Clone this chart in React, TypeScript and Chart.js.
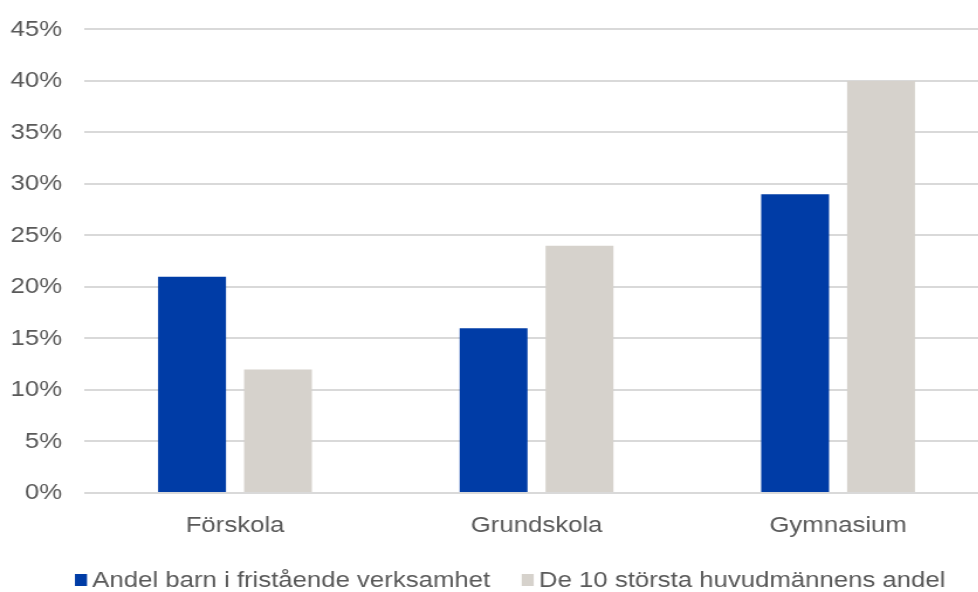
import React, { useEffect, useRef } from "react";
import { Chart, registerables } from "chart.js";

Chart.register(...registerables);

const categories = ["Förskola", "Grundskola", "Gymnasium"];
const friståendeAndel = [21, 16, 29];
const tioStörstaAndel = [12, 24, 40];
const seriesNames = ["Andel barn i fristående verksamhet", "De 10 största huvudmännens andel"];
const seriesColors = ["#003ca6", "#d6d2cc"];

const FONT = "'Liberation Sans', Arial, sans-serif";
const TEXT = "#595959";
const FONT_SIZE = 22;

// The drawing surface is narrower than its displayed box, so the browser widens it;
// the plot runs a little past the visible right edge, which the frame clips.
const DRAW_W = 846;
const DRAW_H = 592;
const SHOW_W = 990;
const FRAME_W = 978;

// Legend drawn by hand so the square-to-text spacing stays tight.
const bottomLegend = {
  id: "bottomLegend",
  afterDraw(chart: Chart) {
    const ctx = chart.ctx;
    ctx.save();
    ctx.font = `${FONT_SIZE}px ${FONT}`;
    ctx.textBaseline = "middle";
    ctx.textAlign = "left";
    const boxW = 10.3;
    const boxH = 12;
    const gap = 4.5;
    const spacing = 27;
    const widths = seriesNames.map((n) => ctx.measureText(n).width);
    const total = widths.reduce((s, w) => s + boxW + gap + w, 0) + spacing * (widths.length - 1);
    const centerX = 436;
    const midY = 580;
    let x = centerX - total / 2;
    seriesNames.forEach((name, i) => {
      ctx.fillStyle = seriesColors[i];
      ctx.fillRect(x, midY - boxH / 2, boxW, boxH);
      x += boxW + gap;
      ctx.fillStyle = TEXT;
      ctx.fillText(name, x, midY + 1);
      x += widths[i] + spacing;
    });
    ctx.restore();
  },
};

export default function App() {
  const ref = useRef<HTMLCanvasElement | null>(null);

  useEffect(() => {
    if (!ref.current) return;
    const chart = new Chart(ref.current, {
      type: "bar",
      data: {
        labels: categories,
        datasets: [
          {
            label: seriesNames[0],
            data: friståendeAndel,
            backgroundColor: seriesColors[0],
            categoryPercentage: 0.57,
            barPercentage: 0.79,
          },
          {
            label: seriesNames[1],
            data: tioStörstaAndel,
            backgroundColor: seriesColors[1],
            categoryPercentage: 0.57,
            barPercentage: 0.79,
          },
        ],
      },
      options: {
        animation: false,
        responsive: false,
        maintainAspectRatio: false,
        devicePixelRatio: 1,
        layout: { padding: { left: 9, right: 1, top: 4, bottom: 54 } },
        plugins: {
          tooltip: { enabled: false },
          legend: { display: false },
        },
        scales: {
          x: {
            grid: { display: false },
            border: { display: false },
            ticks: { color: TEXT, font: { family: FONT, size: FONT_SIZE }, padding: 12 },
            afterFit: (scale) => {
              scale.height = 45;
            },
          },
          y: {
            min: 0,
            max: 45,
            border: { display: false },
            grid: { color: "#d9d9d9", lineWidth: 2, drawTicks: false },
            ticks: {
              stepSize: 5,
              padding: 19,
              color: TEXT,
              font: { family: FONT, size: FONT_SIZE, lineHeight: 0.95 },
              callback: (v) => `${v}%`,
            },
            afterFit: (scale) => {
              scale.width = 63;
            },
          },
        },
      },
      plugins: [bottomLegend],
    });
    return () => chart.destroy();
  }, []);

  return (
    <div
      style={{
        position: "fixed",
        left: 0,
        top: 0,
        width: FRAME_W,
        height: DRAW_H,
        overflow: "hidden",
        background: "#fff",
      }}
    >
      <canvas
        ref={ref}
        width={DRAW_W}
        height={DRAW_H}
        style={{ display: "block", width: SHOW_W, height: DRAW_H }}
      />
    </div>
  );
}
